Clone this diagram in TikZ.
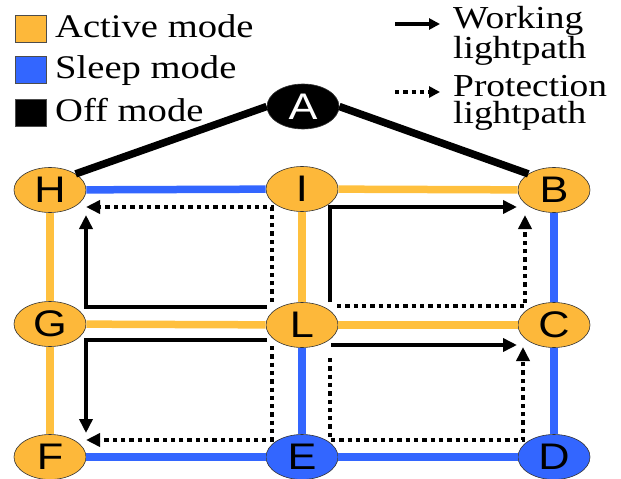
\documentclass[tikz,border=0pt]{standalone}
\usepackage{fontspec}
\setmainfont{Liberation Serif}
\newfontfamily\arial{Liberation Sans}
\usetikzlibrary{shapes.geometric, arrows.meta}
\definecolor{actcol}{RGB}{253,184,58}
\definecolor{actline}{RGB}{255,192,62}
\definecolor{slpcol}{RGB}{51,102,255}
\newcommand{\wide}[1]{\scalebox{1.17}[1]{#1}}

\begin{document}
\begin{tikzpicture}[x=1pt, y=-1pt]

\tikzset{vertex/.style = {shape=ellipse, draw=black!80, line width=0.6pt, minimum width=72pt, minimum height=45pt, inner sep=0pt, font=\arial\fontsize{37}{37}\selectfont}}
\tikzset{activenode/.style = {vertex, fill=actcol}}
\tikzset{sleepnode/.style = {vertex, fill=slpcol}}
\tikzset{offnode/.style = {vertex, fill=black, text=white}}
\tikzset{link/.style = {line width=7.5pt}}
\tikzset{work/.style = {line width=3.8pt, ->, > = {Triangle[length=14pt, width=13pt]}}}
\tikzset{prot/.style = {work, line width=4.3pt, dash pattern=on 4.3pt off 4pt}}
\tikzset{legbox/.style = {draw=black!70, line width=0.5pt, minimum width=31pt, minimum height=27pt, inner sep=0pt}}
\tikzset{legtext/.style = {anchor=base west, inner sep=0pt, font=\fontsize{33}{33}\selectfont}}
\tikzset{legtextr/.style = {anchor=north west, inner sep=0pt, align=left, font=\fontsize{32}{27}\selectfont}}
\tikzset{legtip/.style = {> = {Triangle[length=11pt, width=11pt]}}}

\useasboundingbox (0,0) rectangle (621,479);

%legend
\node[legbox, fill=actcol] (actbox) at (30.5,28.5) {};
\node[legbox, fill=slpcol] (slpbox) at (30.5,70) {};
\node[legbox, fill=black] (offbox) at (30.5,112.5) {};
\node[legtext] (acttext) at (55,37) {\wide{Active mode}};
\node[legtext] (slptext) at (55,78) {\wide{Sleep mode}};
\node[legtext] (offtext) at (55,121) {\wide{Off mode}};
\coordinate (ws) at (395,24);
\coordinate (we) at (440,24);
\coordinate (ps) at (395,92);
\coordinate (pe) at (440,92);
\draw[work, legtip] (ws) -- (we);
\draw[prot, legtip] (ps) -- (pe);
\node[legtextr] (worktext) at (453,6) {\wide{Working}\\\wide{lightpath}};
\node[legtextr] (prottext) at (453,75) {\wide{Protection}\\\wide{lightpath}};

%verticies
\node[offnode] (A) at (303,106.5) {\wide{A}};
\node[activenode] (H) at (50,190) {\wide{H}};
\node[activenode] (I) at (302,189) {\wide{I}};
\node[activenode] (B) at (554,190) {\wide{B}};
\node[activenode] (G) at (50,324) {\wide{G}};
\node[activenode] (L) at (302,325) {\wide{L}};
\node[activenode] (C) at (554,325) {\wide{C}};
\node[activenode] (F) at (50,457) {\wide{F}};
\node[sleepnode] (E) at (302,457) {\wide{E}};
\node[sleepnode] (D) at (554,457) {\wide{D}};

%edges
\draw[link, black] (A.west) -- (H.north east);
\draw[link, black] (A.east) -- (B.north west);
\draw[link, slpcol] (H) -- (I);
\draw[link, actline] (I) -- (B);
\draw[link, actline] (G) -- (L);
\draw[link, actline] (L) -- (C);
\draw[link, slpcol] (F) -- (E);
\draw[link, slpcol] (E) -- (D);
\draw[link, actline] (H) -- (G);
\draw[link, actline] (G) -- (F);
\draw[link, actline] (I) -- (L);
\draw[link, slpcol] (L) -- (E);
\draw[link, slpcol] (B) -- (C);
\draw[link, slpcol] (C) -- (D);

%working lightpaths
\draw[work] ([shift={(-35,-18)}]L.center) -| ([shift={(36,25)}]H.center);
\draw[work] ([shift={(-35,15)}]L.center) -| ([shift={(36,-24)}]F.center);
\draw[work] ([shift={(28,-23)}]L.center) |- ([shift={(-37,17)}]B.center);
\draw[work] ([shift={(29,20)}]L.center) -- ([shift={(-37,20)}]C.center);

%protection lightpaths
\draw[prot] ([shift={(-30,-23)}]L.center) |- ([shift={(36,17)}]H.center);
\draw[prot] ([shift={(-30,21)}]L.center) |- ([shift={(36,-17)}]F.center);
\draw[prot] ([shift={(35,-19)}]L.center) -| ([shift={(-29,25)}]B.center);
\draw[prot] ([shift={(28,33)}]L.center) |- ([shift={(-31,-17)}]D.center) -- ([shift={(-31,22)}]C.center);

\end{tikzpicture}
\end{document}
